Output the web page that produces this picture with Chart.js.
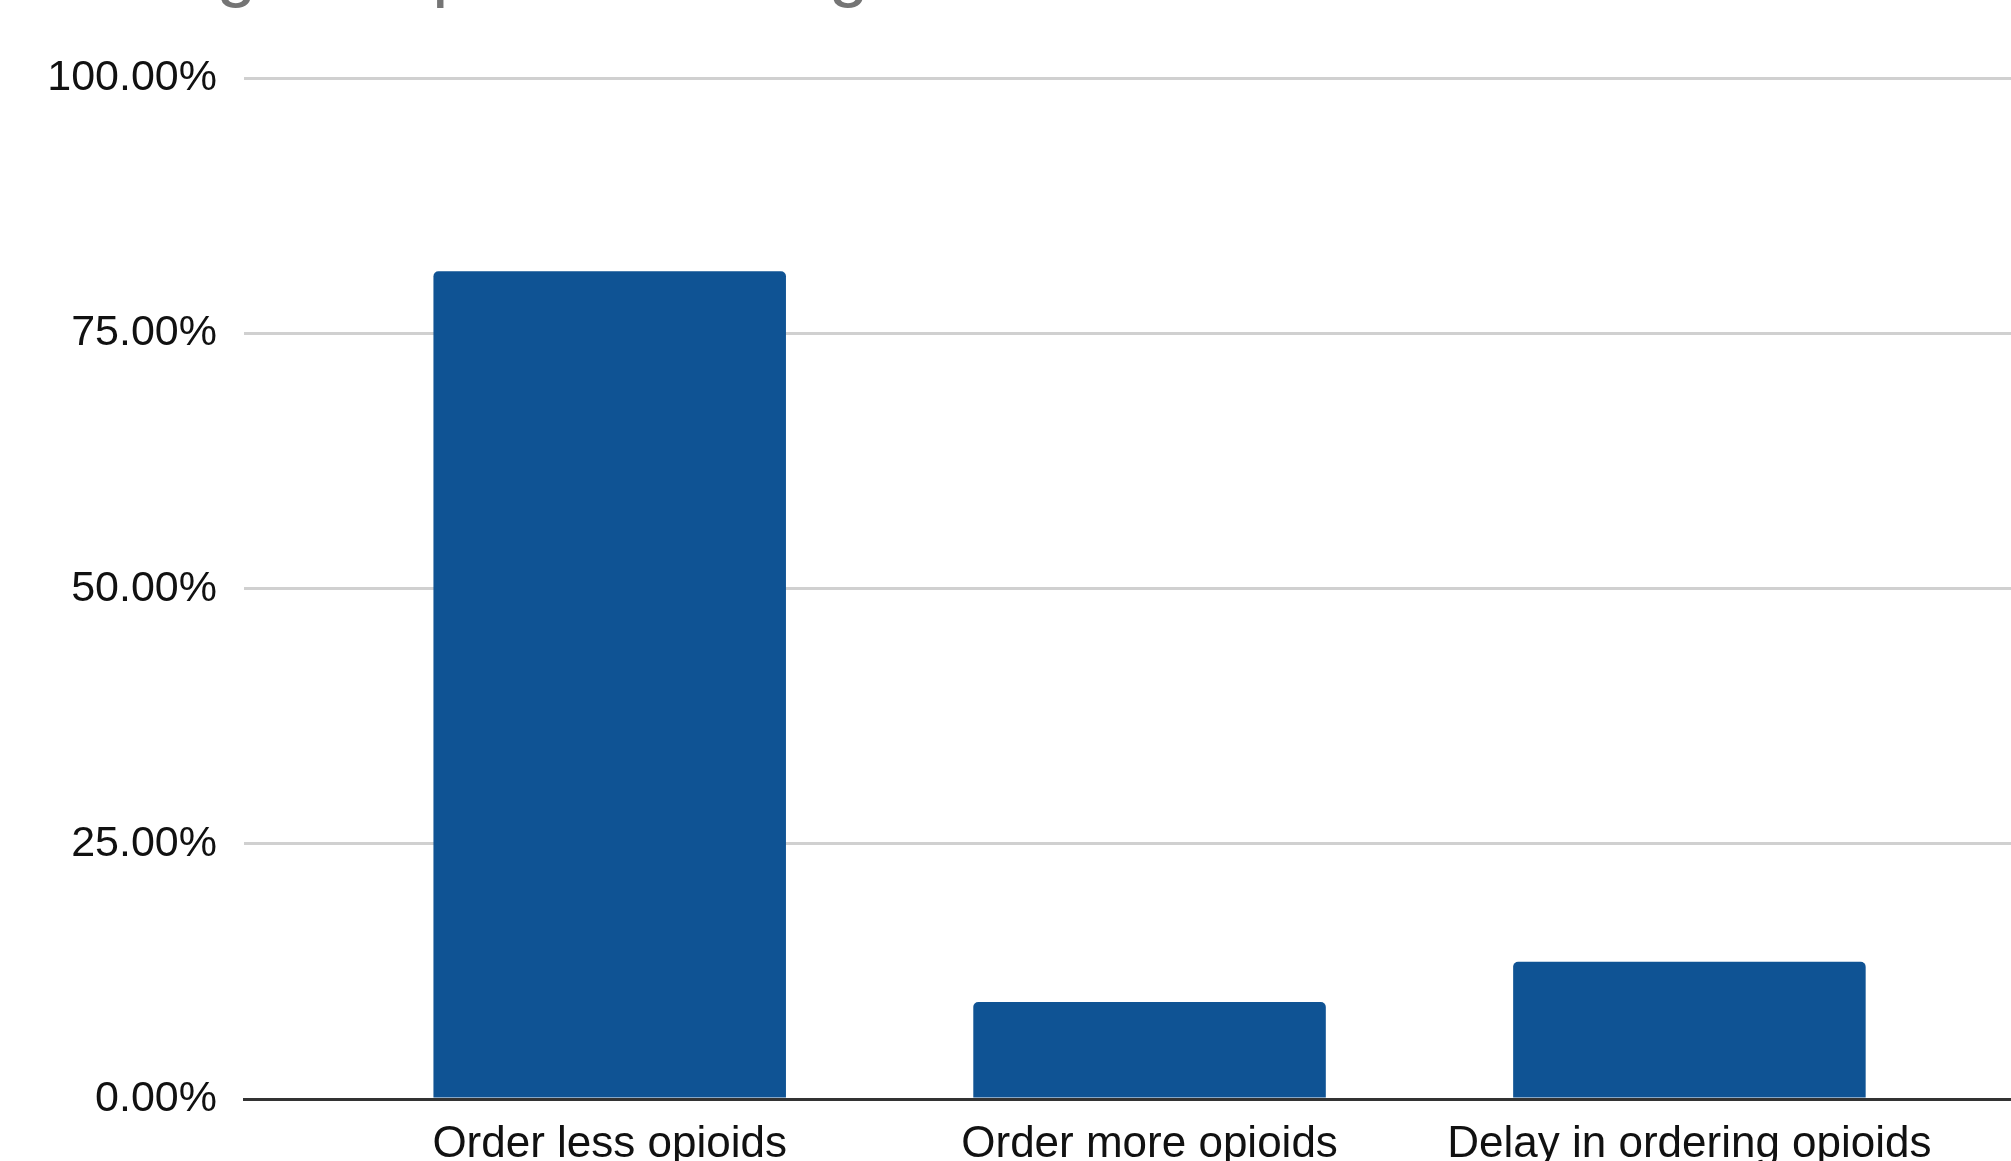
<!DOCTYPE html>
<html>
<head>
<meta charset="utf-8">
<script src="https://cdn.jsdelivr.net/npm/chart.js@4/dist/chart.umd.min.js"></script>
<style>
  html, body { margin: 0; padding: 0; background: #ffffff; }
  #wrap { position: relative; width: 2011px; height: 1161px; overflow: hidden; }
</style>
</head>
<body>
<div id="wrap"><canvas id="chart"></canvas></div>
<script>
// Chart content
const chartTitle = 'Change in opioid ordering';
const categories = ['Order less opioids', 'Order more opioids', 'Delay in ordering opioids'];
const shares = [81.1, 9.5, 13.45];          // percent of respondents
const yTicks = [0, 25, 50, 75, 100];        // value axis ticks (%)

const FONT = '"Liberation Sans", Arial, sans-serif';

new Chart(document.getElementById('chart'), {
  type: 'bar',
  data: {
    datasets: [{
      data: shares.map((v, i) => ({ x: i, y: v })),
      backgroundColor: '#0f5394',
      borderRadius: { topLeft: 5, topRight: 5, bottomLeft: 0, bottomRight: 0 },
      borderSkipped: 'bottom',
      barPercentage: 0.653,
      categoryPercentage: 1
    }]
  },
  options: {
    responsive: true,
    maintainAspectRatio: false,
    animation: false,
    layout: { padding: { left: 44, right: 0, top: 0, bottom: 0 } },
    plugins: {
      legend: { display: false },
      tooltip: { enabled: false },
      title: {
        display: true,
        text: chartTitle,
        align: 'start',
        color: '#757575',
        font: { family: FONT, size: 72, weight: 'normal' },
        padding: { top: -70, bottom: 62 }
      }
    },
    scales: {
      x: {
        type: 'linear',
        offset: false,
        min: -0.6774,
        max: 2.5957,
        z: 1,
        grid: { display: false, offset: false },
        border: { display: true, color: '#333333', width: 3 },
        afterBuildTicks: s => { s.ticks = categories.map((_, i) => ({ value: i })); },
        afterFit: s => { s.height = 62; },
        ticks: {
          autoSkip: false,
          maxRotation: 0,
          padding: 11,
          color: '#111111',
          font: { family: FONT, size: 44 },
          callback: v => categories[v] ?? ''
        }
      },
      y: {
        min: 0,
        max: 100,
        afterBuildTicks: s => { s.ticks = yTicks.map(v => ({ value: v })); },
        afterFit: s => { s.width = 200; },
        grid: { color: '#d0d0d0', lineWidth: 3, drawTicks: false },
        border: { display: false },
        ticks: {
          padding: 27,
          color: '#111111',
          font: { family: FONT, size: 43 },
          callback: v => v.toFixed(2) + '%'
        }
      }
    }
  }
});
</script>
</body>
</html>
